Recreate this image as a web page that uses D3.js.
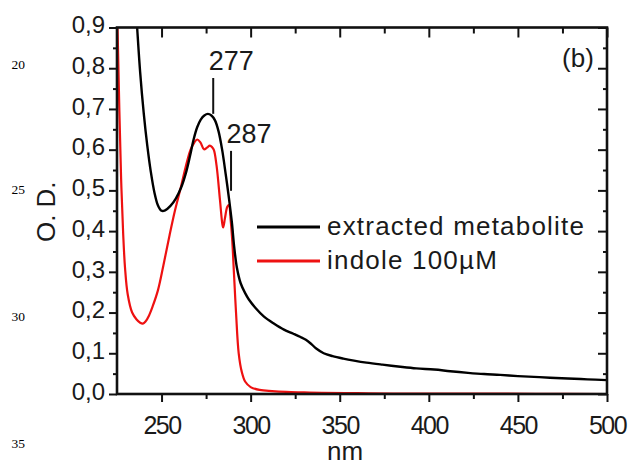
<!DOCTYPE html>
<html>
<head>
<meta charset="utf-8">
<script src="https://cdn.jsdelivr.net/npm/d3@7"></script>
<style>
  html, body { margin: 0; padding: 0; background: #fff; }
  svg { display: block; }
  text.sans { font-family: "Liberation Sans", Arial, sans-serif; fill: #1a1a1a; }
</style>
</head>
<body>
<svg id="chart" width="631" height="465"></svg>
<script>
// ---------- data ----------
const seriesNames = ["extracted metabolite", "indole 100µM"];
const seriesColors = ["#000000", "#ee1111"];

const metaboliteNm = [235, 236.3, 238, 240, 242, 244, 246, 248, 250, 252, 255, 258, 261, 264, 266, 268, 270, 272, 274, 276, 278, 280, 282, 284, 286, 288, 289.5, 290.8, 292.3, 294.4, 297, 299, 303, 307.5, 313, 318.7, 324, 328, 331, 333.7, 337, 341, 346, 352, 358, 365, 374, 384, 393, 403, 412, 422, 431, 440, 450, 459, 468, 478, 489, 500];
const metaboliteOD = [0.99, 0.9, 0.79, 0.69, 0.61, 0.545, 0.495, 0.463, 0.45, 0.451, 0.462, 0.48, 0.507, 0.548, 0.585, 0.625, 0.655, 0.674, 0.684, 0.688, 0.684, 0.672, 0.645, 0.6, 0.54, 0.475, 0.42, 0.36, 0.31, 0.272, 0.247, 0.232, 0.21, 0.19, 0.173, 0.158, 0.148, 0.14, 0.133, 0.124, 0.111, 0.1, 0.093, 0.087, 0.082, 0.077, 0.072, 0.067, 0.063, 0.06, 0.056, 0.052, 0.049, 0.047, 0.044, 0.042, 0.04, 0.038, 0.036, 0.034];

const indoleNm = [224.6, 225.3, 226.3, 227.3, 228.5, 229.5, 231, 233.5, 236, 238, 239.5, 241, 243, 245, 248, 251, 254.5, 257.5, 260.7, 263.5, 266.3, 268.3, 270, 271.8, 273.8, 275.5, 277.1, 278.4, 279.4, 280.9, 282.8, 284.1, 284.6, 285.6, 286.9, 287.8, 288.8, 289.7, 290.6, 291.8, 293.3, 295, 297, 300, 305, 312, 320, 330, 340, 360, 380, 420, 460, 500];
const indoleOD = [1.0, 0.9, 0.7, 0.53, 0.39, 0.31, 0.245, 0.2, 0.183, 0.175, 0.173, 0.178, 0.193, 0.215, 0.255, 0.315, 0.39, 0.45, 0.505, 0.557, 0.6, 0.617, 0.625, 0.618, 0.601, 0.605, 0.61, 0.606, 0.599, 0.56, 0.476, 0.418, 0.409, 0.432, 0.46, 0.464, 0.427, 0.375, 0.3, 0.2, 0.1, 0.055, 0.03, 0.017, 0.01, 0.007, 0.005, 0.004, 0.003, 0.002, 0.001, 0.001, 0.0005, 0.0];

const xTickValues = [250, 300, 350, 400, 450, 500];
const xMinorValues = [275, 325, 375, 425, 475];
const yTickValues = [0, 0.1, 0.2, 0.3, 0.4, 0.5, 0.6, 0.7, 0.8, 0.9];
const yMinorValues = [0.05, 0.15, 0.25, 0.35, 0.45, 0.55, 0.65, 0.75, 0.85];

const peakLabels = ["277", "287"];
const peakNm = [277, 287];
const marginNumbers = ["20", "25", "30", "35"];

// ---------- layout ----------
const L = 117, R = 607, T = 27.5, B = 394;
const svg = d3.select("#chart");

const x = d3.scaleLinear().domain([225, 500]).range([L, R]);
const y = d3.scaleLinear().domain([0, 0.9]).range([B, T]);

svg.append("defs").append("clipPath").attr("id", "plotclip")
  .append("rect").attr("x", L).attr("y", T).attr("width", R - L).attr("height", B - T);

// ---------- curves ----------
const line = d3.line().x(d => x(d[0])).y(d => y(d[1])).curve(d3.curveCatmullRom.alpha(0.5));
const plot = svg.append("g").attr("clip-path", "url(#plotclip)");

plot.append("path")
  .datum(d3.zip(indoleNm, indoleOD))
  .attr("d", line).attr("fill", "none")
  .attr("stroke", seriesColors[1]).attr("stroke-width", 2.2);

plot.append("path")
  .datum(d3.zip(metaboliteNm, metaboliteOD))
  .attr("d", line).attr("fill", "none")
  .attr("stroke", seriesColors[0]).attr("stroke-width", 2.4);

// ---------- axes ----------
const fmtY = d => d3.format(".1f")(d).replace(".", ",");

function styleAxis(g, width) {
  g.select(".domain").remove();
  g.selectAll(".tick line").attr("stroke", "#111").attr("stroke-width", width);
}

// bottom major (outward, labelled)
const gB = svg.append("g").attr("transform", `translate(0,${B})`)
  .call(d3.axisBottom(x).tickValues(xTickValues).tickSize(8).tickPadding(14).tickFormat(d3.format("d")));
styleAxis(gB, 2);
gB.selectAll(".tick text").attr("class", "sans").attr("font-size", 25)
  .attr("letter-spacing", "-1.5px").attr("dy", "0.71em");
// bottom minor
const gBm = svg.append("g").attr("transform", `translate(0,${B})`)
  .call(d3.axisBottom(x).tickValues(xMinorValues).tickSize(5).tickFormat(""));
styleAxis(gBm, 2);

// top (inward)
const gT = svg.append("g").attr("transform", `translate(0,${T})`)
  .call(d3.axisBottom(x).tickValues(xTickValues).tickSize(10).tickFormat(""));
styleAxis(gT, 2);
const gTm = svg.append("g").attr("transform", `translate(0,${T})`)
  .call(d3.axisBottom(x).tickValues(xMinorValues).tickSize(6).tickFormat(""));
styleAxis(gTm, 2);

// left (outward, labelled)
const gL = svg.append("g").attr("transform", `translate(${L},0)`)
  .call(d3.axisLeft(y).tickValues(yTickValues).tickSize(8).tickPadding(4).tickFormat(fmtY));
styleAxis(gL, 2);
gL.selectAll(".tick text").attr("class", "sans").attr("font-size", 24).attr("dy", "0.22em");
const gLm = svg.append("g").attr("transform", `translate(${L},0)`)
  .call(d3.axisLeft(y).tickValues(yMinorValues).tickSize(4).tickFormat(""));
styleAxis(gLm, 2);

// right (inward)
const gR = svg.append("g").attr("transform", `translate(${R},0)`)
  .call(d3.axisLeft(y).tickValues(yTickValues).tickSize(9).tickFormat(""));
styleAxis(gR, 2);
const gRm = svg.append("g").attr("transform", `translate(${R},0)`)
  .call(d3.axisLeft(y).tickValues(yMinorValues).tickSize(4).tickFormat(""));
styleAxis(gRm, 2);

// frame
svg.append("rect").attr("x", L).attr("y", T).attr("width", R - L).attr("height", B - T)
  .attr("fill", "none").attr("stroke", "#111").attr("stroke-width", 2.6);

// ---------- axis titles ----------
svg.append("text").attr("class", "sans").attr("x", 345).attr("y", 460).attr("text-anchor", "middle")
  .attr("font-size", 26).text("nm");
svg.append("text").attr("class", "sans").attr("transform", `translate(55,${(T + B) / 2 + 1}) rotate(-90)`)
  .attr("text-anchor", "middle").attr("font-size", 26).text("O. D.");

// ---------- panel label ----------
svg.append("text").attr("class", "sans").attr("x", 578).attr("y", 67).attr("text-anchor", "middle")
  .attr("font-size", 26).text("(b)");

// ---------- peak annotations ----------
const annTop = [0.776, 0.597];
const annBot = [0.688, 0.499];
const annTextOff = [8, 8];
peakLabels.forEach((lab, i) => {
  const px = x(peakNm[i] + 2);
  svg.append("line").attr("x1", px).attr("x2", px)
    .attr("y1", y(annTop[i])).attr("y2", y(annBot[i]))
    .attr("stroke", "#111").attr("stroke-width", 2);
  svg.append("text").attr("class", "sans").attr("x", px + 18).attr("y", y(annTop[i]) - annTextOff[i])
    .attr("text-anchor", "middle").attr("font-size", 27).text(lab);
});

// ---------- legend ----------
const legY = [227, 261];
seriesNames.forEach((name, i) => {
  svg.append("line").attr("x1", 257).attr("x2", 320).attr("y1", legY[i]).attr("y2", legY[i])
    .attr("stroke", seriesColors[i]).attr("stroke-width", 3);
  svg.append("text").attr("class", "sans").attr("x", 327).attr("y", legY[i] + 8)
    .attr("font-size", 26).attr("letter-spacing", "1.2px").text(name);
});

// ---------- document margin line numbers ----------
const marginY = [68.5, 194, 320.5, 448];
marginNumbers.forEach((n, i) => {
  svg.append("text").attr("x", 11.5).attr("y", marginY[i])
    .style("font-family", '"Liberation Serif", "Times New Roman", serif')
    .attr("font-size", 13.5).attr("fill", "#000").text(n);
});
</script>
</body>
</html>
